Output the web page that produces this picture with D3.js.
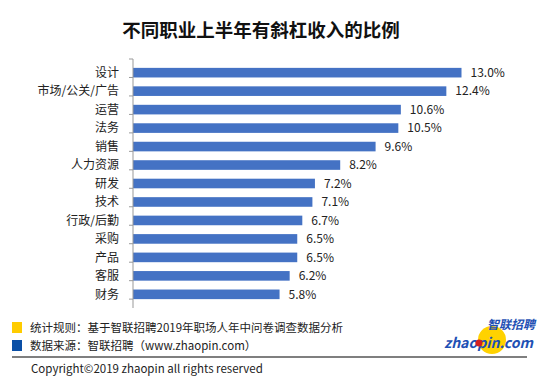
<!DOCTYPE html>
<html lang="zh">
<head>
<meta charset="UTF-8" />
<title>不同职业上半年有斜杠收入的比例</title>
<script src="https://d3js.org/d3.v7.min.js"></script>
<style>
  body { margin: 0; background: #fff; font-family: "Noto Sans CJK SC", "Noto Sans", sans-serif; }
  svg text { font-family: "Noto Sans CJK SC", "Noto Sans", sans-serif; }
</style>
</head>
<body>
<div id="chart"></div>
<script>
const categories = ['设计', '市场/公关/广告', '运营', '法务', '销售', '人力资源', '研发', '技术', '行政/后勤', '采购', '产品', '客服', '财务'];
const values = [13.0, 12.4, 10.6, 10.5, 9.6, 8.2, 7.2, 7.1, 6.7, 6.5, 6.5, 6.2, 5.8];

const width = 550, height = 387;
const margin = { left: 133, top: 59, bottom: 79 };

const svg = d3.select("#chart").append("svg")
  .attr("width", width).attr("height", height);

svg.append("text")
  .attr("x", 261).attr("y", 37)
  .attr("text-anchor", "middle")
  .attr("font-size", 18.5).attr("font-weight", "bold").attr("fill", "#111")
  .text("不同职业上半年有斜杠收入的比例");

const x = d3.scaleLinear().domain([0, 13]).range([margin.left, 461.5]);
const y = d3.scaleBand().domain(categories).range([margin.top, height - margin.bottom]).padding(0.48);

// bars
svg.selectAll("rect.bar")
  .data(values)
  .enter().append("rect")
  .attr("class", "bar")
  .attr("x", x(0))
  .attr("y", (d, i) => y(categories[i]))
  .attr("width", d => x(d) - x(0))
  .attr("height", y.bandwidth())
  .attr("fill", "#4472C4");

// value labels
svg.selectAll("text.val")
  .data(values)
  .enter().append("text")
  .attr("class", "val")
  .attr("x", d => x(d) + 9)
  .attr("y", (d, i) => y(categories[i]) + y.bandwidth() / 2)
  .attr("dy", "0.35em")
  .attr("font-size", 12).attr("fill", "#222")
  .text(d => d.toFixed(1) + "%");

// y axis with ticks between categories
const yAxis = svg.append("g").attr("transform", `translate(${margin.left},0)`);
yAxis.append("line")
  .attr("x1", 0).attr("x2", 0)
  .attr("y1", y.range()[0]).attr("y2", y.range()[1])
  .attr("stroke", "#999");
const step = y.step();
yAxis.selectAll("line.tick")
  .data(d3.range(categories.length + 1))
  .enter().append("line")
  .attr("class", "tick")
  .attr("x1", -4).attr("x2", 0)
  .attr("y1", i => y.range()[0] + i * step)
  .attr("y2", i => y.range()[0] + i * step)
  .attr("stroke", "#999");
yAxis.selectAll("text")
  .data(categories)
  .enter().append("text")
  .attr("x", -14)
  .attr("y", d => y(d) + y.bandwidth() / 2)
  .attr("dy", "0.35em")
  .attr("text-anchor", "end")
  .attr("font-size", 12).attr("fill", "#222")
  .text(d => d);

// footer
const foot = svg.append("g");
foot.append("rect").attr("x", 12).attr("y", 322).attr("width", 10).attr("height", 11).attr("fill", "#FFCC00");
foot.append("rect").attr("x", 12).attr("y", 340).attr("width", 10).attr("height", 11).attr("fill", "#0A4FA6");
foot.append("text").attr("x", 30).attr("y", 328).attr("dy", "0.35em")
  .attr("font-size", 11.5).attr("fill", "#222")
  .text("统计规则：基于智联招聘2019年职场人年中问卷调查数据分析");
foot.append("text").attr("x", 30).attr("y", 346).attr("dy", "0.35em")
  .attr("font-size", 11.5).attr("fill", "#222")
  .text("数据来源：智联招聘（www.zhaopin.com）");
foot.append("line").attr("x1", 12).attr("x2", 527).attr("y1", 357).attr("y2", 357)
  .attr("stroke", "#555").attr("stroke-width", 1.5);
foot.append("text").attr("x", 31).attr("y", 369).attr("dy", "0.35em")
  .attr("font-size", 11.5).attr("fill", "#222")
  .text("Copyright©2019 zhaopin all rights reserved");

// logo
const logo = svg.append("g");
logo.append("circle").attr("cx", 492).attr("cy", 340).attr("r", 14).attr("fill", "#FFD200");
logo.append("text").attr("x", 535).attr("y", 329).attr("text-anchor", "end")
  .attr("font-size", 12).attr("font-weight", "bold").attr("font-style", "italic").attr("fill", "#1E50B4")
  .text("智联招聘");
logo.append("text").attr("x", 533).attr("y", 348).attr("text-anchor", "end")
  .attr("font-family", "Liberation Sans, sans-serif")
  .attr("font-size", 14).attr("font-weight", "bold").attr("font-style", "italic").attr("fill", "#1E50B4")
  .text("zhaopin.com");
logo.append("circle").attr("cx", 479).attr("cy", 343).attr("r", 3.5).attr("fill", "#D42020");
</script>
</body>
</html>
